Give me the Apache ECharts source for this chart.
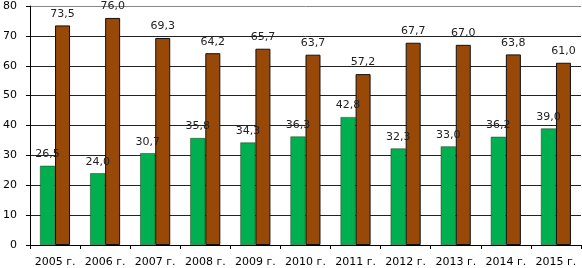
<!DOCTYPE html>
<html><head><meta charset="utf-8">
<script src="https://cdn.jsdelivr.net/npm/echarts@6/dist/echarts.min.js"></script>
<style>html,body{margin:0;padding:0;background:#fff}#c{width:582px;height:268px}</style>
</head><body><div id="c"></div>
<script>
var categories = ['2005 г.','2006 г.','2007 г.','2008 г.','2009 г.','2010 г.','2011 г.','2012 г.','2013 г.','2014 г.','2015 г.'];
var greenValues = [26.5,24.0,30.7,35.8,34.3,36.3,42.8,32.3,33.0,36.2,39.0];
var brownValues = [73.5,76.0,69.3,64.2,65.7,63.7,57.2,67.7,67.0,63.8,61.0];
var yTicks = [0,10,20,30,40,50,60,70,80];

var chart = echarts.init(document.getElementById('c'));
var fmt = function(p){ return p.value.toFixed(1).replace('.', ','); };
var lbl = {show:true, position:'top', distance:6, formatter:fmt, fontFamily:'DejaVu Sans', fontSize:11, color:'#222'};
chart.setOption({
  animation:false,
  grid:{left:26, right:1, top:6, bottom:23},
  xAxis:{type:'category', data:categories,
    axisLine:{lineStyle:{color:'#000'}},
    axisTick:{show:true, length:4, lineStyle:{color:'#000'}},
    axisLabel:{fontFamily:'DejaVu Sans', fontSize:11, color:'#000', margin:12, interval:0}},
  yAxis:{type:'value', min:yTicks[0], max:yTicks[yTicks.length-1], interval:10,
    axisLine:{show:true, lineStyle:{color:'#000'}},
    axisTick:{show:true, length:4, lineStyle:{color:'#000'}},
    axisLabel:{fontFamily:'DejaVu Sans', fontSize:11, color:'#000', margin:13},
    splitLine:{lineStyle:{color:['#222','#222','#222','#222','#222','#222','#222','#222','#888'], width:1}}},
  series:[
    {type:'bar', data:greenValues, barWidth:15, barGap:'0%',
      itemStyle:{color:'#00B050', borderColor:'#1a3a1a', borderWidth:0.5}, label:lbl},
    {type:'bar', data:brownValues, barWidth:15, barGap:'0%',
      itemStyle:{color:'#984807', borderColor:'#111', borderWidth:1}, label:lbl}
  ]
});
</script></body></html>
